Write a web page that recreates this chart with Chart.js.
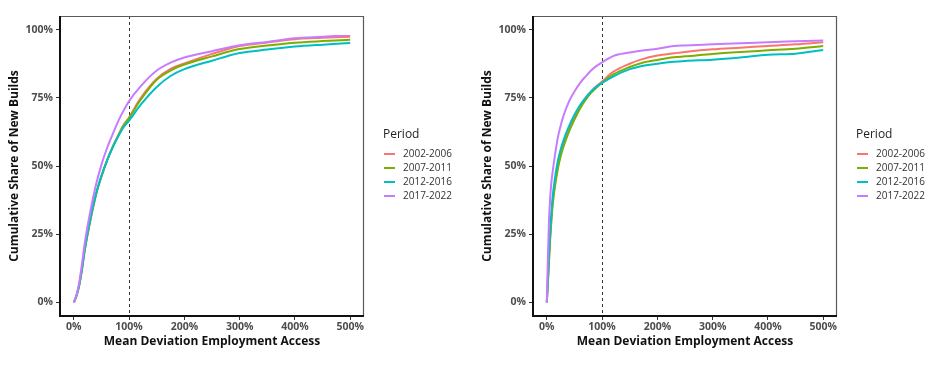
<!DOCTYPE html>
<html>
<head>
<meta charset="utf-8">
<script src="https://cdn.jsdelivr.net/npm/chart.js@4.4.1/dist/chart.umd.min.js"></script>
<style>
  html, body { margin: 0; padding: 0; background: #fff; }
  #wrap { position: relative; width: 940px; height: 366px; overflow: hidden; }
  canvas { position: absolute; top: 0; }
  #c1 { left: 0; }
  #c2 { left: 473px; }
</style>
</head>
<body>
<div id="wrap">
  <canvas id="c1" width="470" height="366"></canvas>
  <canvas id="c2" width="467" height="366"></canvas>
</div>
<script>
// ---------- DATA ----------
const periods = ["2002-2006", "2007-2011", "2012-2016", "2017-2022"];
const periodColors = ["#F8766D", "#7CAE00", "#00BFC4", "#C77CFF"];
const xTicks = [0, 100, 200, 300, 400, 500];
const yTicks = [0, 25, 50, 75, 100];
const thresholdX = 100;

// Left panel
const leftX      = [0, 5, 10, 15, 20, 30, 40, 50, 60, 70, 80, 90, 100, 120, 150, 175, 200, 250, 300, 350, 400, 450, 500];
const left2002   = [0, 2.4, 6.4, 12.4, 19.4, 30.1, 39.3, 46.1, 51.9, 56.8, 61.1, 65.0, 67.8, 74.6, 82.0, 85.6, 87.6, 91.1, 94.0, 95.3, 96.5, 97.0, 97.4];
const left2007   = [0, 2.5, 6.5, 12.5, 19.5, 30.3, 39.5, 46.3, 52.0, 56.8, 61.0, 64.8, 67.6, 74.0, 81.6, 85.0, 87.2, 90.2, 92.9, 94.2, 95.2, 95.8, 96.3];
const left2012   = [0, 2.6, 6.7, 12.7, 19.8, 30.6, 39.7, 46.4, 52.0, 56.7, 60.7, 64.2, 66.6, 72.2, 79.0, 83.0, 85.5, 88.6, 91.4, 92.7, 93.8, 94.5, 95.1];
const left2017   = [0, 2.8, 7.5, 14.5, 22.0, 33.5, 43.0, 50.5, 56.5, 61.5, 66.3, 70.3, 73.8, 79.0, 85.0, 87.9, 89.8, 92.1, 94.3, 95.5, 96.8, 97.4, 98.0];

// Right panel
const rightX     = [0, 2, 4, 6, 8, 10, 14, 20, 25, 30, 40, 50, 60, 70, 80, 90, 100, 120, 150, 170, 200, 230, 250, 300, 350, 400, 450, 500];
const right2002  = [0, 8, 16, 24, 30, 35.5, 42.5, 50, 54.5, 58, 63.5, 68, 71.8, 74.8, 77.3, 79.3, 81, 84.5, 87.5, 89, 90.5, 91.3, 91.8, 92.8, 93.4, 94.0, 94.6, 95.4];
const right2007  = [0, 7.5, 15, 23, 29, 34.5, 41.5, 49, 53.5, 57, 62.5, 67, 71, 74.2, 76.8, 78.8, 80.5, 83.5, 86.3, 87.7, 88.9, 89.9, 90.2, 91.1, 91.8, 92.4, 93.0, 94.0];
const right2012  = [0, 9, 18, 26, 32, 37.5, 44.5, 52, 56, 59.3, 64.5, 68.8, 72.3, 75, 77.3, 79.1, 80.5, 82.8, 85.5, 86.6, 87.5, 88.2, 88.5, 89.0, 89.8, 90.8, 91.2, 92.5];
const right2017  = [0, 17, 30.5, 38, 43.5, 47, 53, 60.5, 64.8, 68.3, 73.6, 77.3, 80.4, 82.8, 85, 86.7, 88, 90.3, 91.6, 92.3, 93.0, 94.0, 94.2, 94.6, 95.0, 95.4, 95.7, 96.0];

// ---------- CHART ----------
const FONT = "'Open Sans', 'Noto Sans', 'DejaVu Sans', sans-serif";

const framePlugin = {
  id: 'frame',
  beforeDatasetsDraw(chart) {
    const {ctx, chartArea: a, scales: {x}} = chart;
    const px = x.getPixelForValue(thresholdX);
    ctx.save();
    ctx.strokeStyle = '#333';
    ctx.lineWidth = 1;
    ctx.setLineDash([3, 3]);
    ctx.beginPath();
    ctx.moveTo(Math.round(px) + 0.5, a.top);
    ctx.lineTo(Math.round(px) + 0.5, a.bottom);
    ctx.stroke();
    ctx.restore();
  },
  afterDraw(chart) {
    const {ctx, chartArea: a} = chart;
    ctx.save();
    ctx.strokeStyle = '#5a5a5a';
    ctx.lineWidth = 1.2;
    ctx.beginPath();
    ctx.moveTo(a.left, a.top + 0.5);
    ctx.lineTo(a.right - 0.5, a.top + 0.5);
    ctx.lineTo(a.right - 0.5, a.bottom);
    ctx.stroke();
    ctx.strokeStyle = '#111';
    ctx.lineWidth = 2;
    ctx.beginPath();
    ctx.moveTo(a.left, a.top);
    ctx.lineTo(a.left, a.bottom);
    ctx.lineTo(a.right, a.bottom);
    ctx.stroke();
    // legend
    const lx = a.right + 19;
    ctx.fillStyle = '#222';
    ctx.font = `12px ${FONT}`;
    ctx.textBaseline = 'middle';
    ctx.textAlign = 'left';
    ctx.fillText('Period', lx, 135);
    ctx.font = `10px ${FONT}`;
    chart.data.datasets.forEach((ds, i) => {
      const y = 154 + i * 14;
      ctx.strokeStyle = ds.borderColor;
      ctx.lineWidth = 2;
      ctx.beginPath();
      ctx.moveTo(lx + 1, y);
      ctx.lineTo(lx + 12, y);
      ctx.stroke();
      ctx.fillStyle = '#333';
      ctx.fillText(ds.label, lx + 20, y);
    });
    ctx.restore();
  }
};

function makeChart(id, xs, series, rightPad) {
  const datasets = series.map((ys, i) => ({
    label: periods[i],
    data: xs.map((x, j) => ({x: x, y: ys[j]})),
    borderColor: periodColors[i],
    backgroundColor: periodColors[i],
    borderWidth: 2,
    pointRadius: 0,
    cubicInterpolationMode: 'monotone',
    order: 4 - i
  }));
  return new Chart(document.getElementById(id), {
    type: 'line',
    data: { datasets },
    plugins: [framePlugin],
    options: {
      responsive: false,
      animation: false,
      devicePixelRatio: 1,
      layout: { padding: { top: 16, right: rightPad, bottom: 0, left: 0 } },
      plugins: { legend: { display: false }, tooltip: { enabled: false } },
      scales: {
        x: {
          type: 'linear', min: -25, max: 525,
          afterBuildTicks: s => { s.ticks = xTicks.map(v => ({value: v})); },
          afterFit: s => { s.height = 50; },
          border: { display: false },
          grid: { display: true, drawOnChartArea: false, drawTicks: true, tickLength: 4, color: '#333', lineWidth: 1 },
          ticks: { color: '#4d4d4d', padding: 1, font: { family: FONT, size: 10.5, weight: 'bold' }, callback: v => v + '%', maxRotation: 0 },
          title: { display: true, text: 'Mean Deviation Employment Access', color: '#111', padding: { top: 0, bottom: 17 }, font: { family: FONT, size: 12, weight: 'bold' } }
        },
        y: {
          type: 'linear', min: -5, max: 105,
          afterBuildTicks: s => { s.ticks = yTicks.map(v => ({value: v})); },
          afterFit: s => { s.width = 60; },
          border: { display: false },
          grid: { display: true, drawOnChartArea: false, drawTicks: true, tickLength: 4, color: '#333', lineWidth: 1 },
          ticks: { color: '#4d4d4d', padding: 3, font: { family: FONT, size: 10.5, weight: 'bold' }, callback: v => v + '%' },
          title: { display: true, text: 'Cumulative Share of New Builds', color: '#111', padding: { top: 7, bottom: 0 }, font: { family: FONT, size: 12, weight: 'bold' } }
        }
      }
    }
  });
}

makeChart('c1', leftX, [left2002, left2007, left2012, left2017], 106);
makeChart('c2', rightX, [right2002, right2007, right2012, right2017], 103);
</script>
</body>
</html>
